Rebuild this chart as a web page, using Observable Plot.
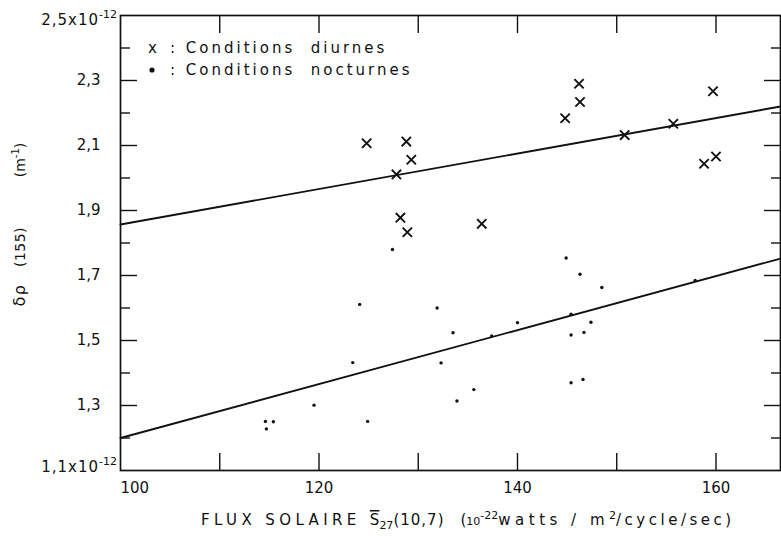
<!DOCTYPE html>
<html><head><meta charset="utf-8">
<script src="https://cdn.jsdelivr.net/npm/d3@7"></script>
<script src="https://cdn.jsdelivr.net/npm/@observablehq/plot@0.6"></script>
<style>
body{margin:0;background:#fff}
svg text{font-family:"DejaVu Sans",sans-serif}
</style>
</head><body><div id="chart"></div>
<script>
// Conditions diurnes (x)
const diurneX = [124.8, 128.8, 129.3, 127.8, 128.2, 128.9, 136.4, 146.2, 146.3, 144.8, 150.8, 155.7, 158.8, 160.0, 159.7];
const diurneY = [2.107, 2.112, 2.056, 2.011, 1.878, 1.833, 1.859, 2.290, 2.234, 2.184, 2.132, 2.167, 2.044, 2.066, 2.267];
// Conditions nocturnes (•)
const nocturneX = [114.6, 115.4, 114.7, 119.5, 124.1, 123.4, 124.9, 127.4, 131.9, 133.5, 140.0, 137.4, 132.3, 135.6, 133.9, 144.9, 146.3, 148.5, 145.4, 157.9, 147.4, 146.7, 145.4, 145.4, 146.6];
const nocturneY = [1.251, 1.250, 1.228, 1.301, 1.611, 1.432, 1.251, 1.780, 1.600, 1.524, 1.555, 1.514, 1.431, 1.349, 1.314, 1.754, 1.704, 1.663, 1.581, 1.685, 1.556, 1.525, 1.517, 1.370, 1.380];
// Droites de régression
const fitX = [100, 166.5];
const fitDiurneY = [1.857, 2.22];
const fitNocturneY = [1.20, 1.752];
// Axes
const xDomain = [100, 166.5];
const yDomain = [1.1, 2.5];
const xTickVals = [110, 120, 130, 140, 150, 160];
const xLabelVals = [120, 140, 160];
const yMajorVals = [1.3, 1.5, 1.7, 1.9, 2.1, 2.3];
const yMinorVals = [1.2, 1.4, 1.6, 1.8, 2.0, 2.2, 2.4];
const yLabelVals = [1.3, 1.5, 1.7, 1.9, 2.1, 2.3];

const diurne = diurneX.map((x, i) => ({x, y: diurneY[i]}));
const nocturne = nocturneX.map((x, i) => ({x, y: nocturneY[i]}));
const fits = [
  ...fitX.map((x, i) => ({x, y: fitDiurneY[i], s: "d"})),
  ...fitX.map((x, i) => ({x, y: fitNocturneY[i], s: "n"}))
];
const ink = "#111";
const fmt = d => d.toFixed(1).replace(".", ",");

const plot = Plot.plot({
  width: 781, height: 536,
  marginLeft: 120, marginRight: 1, marginTop: 15, marginBottom: 66,
  style: {fontFamily: "DejaVu Sans", fontSize: "15px", color: ink, background: "#fff"},
  x: {domain: xDomain},
  y: {domain: yDomain},
  marks: [
    Plot.frame({stroke: ink, strokeWidth: 1.7}),
    Plot.axisX(xTickVals, {anchor: "bottom", tickSize: -17, tickFormat: () => "", label: null, strokeWidth: 1.4}),
    Plot.axisX(xTickVals, {anchor: "top", tickSize: -17, tickFormat: () => "", label: null, strokeWidth: 1.4}),
    Plot.axisY(yMajorVals, {anchor: "left", tickSize: -17, tickFormat: () => "", label: null, strokeWidth: 1.4}),
    Plot.axisY(yMinorVals, {anchor: "left", tickSize: -10, tickFormat: () => "", label: null, strokeWidth: 1.4}),
    Plot.axisY(yMajorVals, {anchor: "right", tickSize: -17, tickFormat: () => "", label: null, strokeWidth: 1.4}),
    Plot.axisY(yMinorVals, {anchor: "right", tickSize: -10, tickFormat: () => "", label: null, strokeWidth: 1.4}),
    Plot.axisX(xLabelVals, {anchor: "bottom", tickSize: 0, tickPadding: 12, tickFormat: d => String(d), label: null, fontSize: 15, letterSpacing: 1}),
    Plot.axisX([100], {anchor: "bottom", tickSize: 0, tickPadding: 12, tickFormat: d => String(d), textAnchor: "start", label: null, fontSize: 15, letterSpacing: 1}),
    Plot.axisY(yLabelVals, {anchor: "left", tickSize: 0, tickPadding: 20, tickFormat: fmt, label: null, fontSize: 15, letterSpacing: 2}),
    Plot.line(fits, {x: "x", y: "y", z: "s", stroke: ink, strokeWidth: 1.9}),
    Plot.dot(diurne, {x: "x", y: "y", symbol: "times", r: 4.3, stroke: ink, strokeWidth: 1.9}),
    Plot.dot(nocturne, {x: "x", y: "y", r: 1.7, fill: ink, stroke: "none"})
  ]
});
document.getElementById("chart").appendChild(plot);

const svg = d3.select(plot);
const xs = plot.scale("x"), ys = plot.scale("y");

// y end labels with 10^-12
function sci(v, base, dy) {
  const t = svg.append("text")
    .attr("x", xs.apply(100) - 3).attr("y", ys.apply(v) + dy)
    .attr("text-anchor", "end").attr("fill", ink)
    .attr("font-size", 15).attr("letter-spacing", 1);
  t.append("tspan").text(base);
  t.append("tspan").attr("dy", -7).attr("font-size", 11).attr("letter-spacing", 0).text("-12");
}
sci(2.5, "2,5x10", 10);
sci(1.1, "1,1x10", 2);

// Legend
const leg = svg.append("g").attr("fill", ink).attr("font-size", 15).attr("letter-spacing", 3).attr("text-anchor", "start");
leg.append("text").attr("x", 148).attr("y", 53).attr("letter-spacing", 0).text("x");
leg.append("text").attr("x", 170).attr("y", 53).text(": Conditions  diurnes");
leg.append("circle").attr("cx", 152).attr("cy", 70).attr("r", 2.6);
leg.append("text").attr("x", 170).attr("y", 75).text(": Conditions  nocturnes");

// x title
const xt = svg.append("text").attr("x", 201).attr("y", 525).attr("fill", ink)
  .attr("text-anchor", "start").attr("font-size", 15).attr("letter-spacing", 4.4);
xt.append("tspan").text("FLUX SOLAIRE ");
xt.append("tspan").attr("text-decoration", "overline").attr("letter-spacing", 0).text("S");
xt.append("tspan").attr("dy", 4).attr("font-size", 11).attr("letter-spacing", 0).text("27");
xt.append("tspan").attr("dy", -4).attr("letter-spacing", 1).text("(10,7)");
xt.append("tspan").attr("dx", 16).attr("letter-spacing", 0).text("(");
xt.append("tspan").attr("font-size", 11).attr("letter-spacing", 0).text("10");
xt.append("tspan").attr("dy", -6).attr("font-size", 11).attr("letter-spacing", 0).text("-22");
xt.append("tspan").attr("dy", 6).attr("letter-spacing", 4.5).text("watts / m");
xt.append("tspan").attr("dy", -6).attr("font-size", 11).attr("letter-spacing", 0).text("2");
xt.append("tspan").attr("dy", 6).attr("letter-spacing", 3.5).text("/cycle/sec)");

// y title (rotated)
function ytitle(yc, build) {
  const t = svg.append("text").attr("transform", `translate(25,${yc}) rotate(-90)`)
    .attr("text-anchor", "middle").attr("fill", ink).attr("font-size", 14);
  build(t);
}
ytitle(295, t => t.attr("letter-spacing", 1.5).attr("font-size", 16).text("δρ"));
ytitle(247, t => t.attr("letter-spacing", 0.5).text("(155)"));
ytitle(160, t => {
  t.append("tspan").text("(m");
  t.append("tspan").attr("dy", -6).attr("font-size", 10).text("-1");
  t.append("tspan").attr("dy", 6).text(")");
});
</script>
</body></html>
